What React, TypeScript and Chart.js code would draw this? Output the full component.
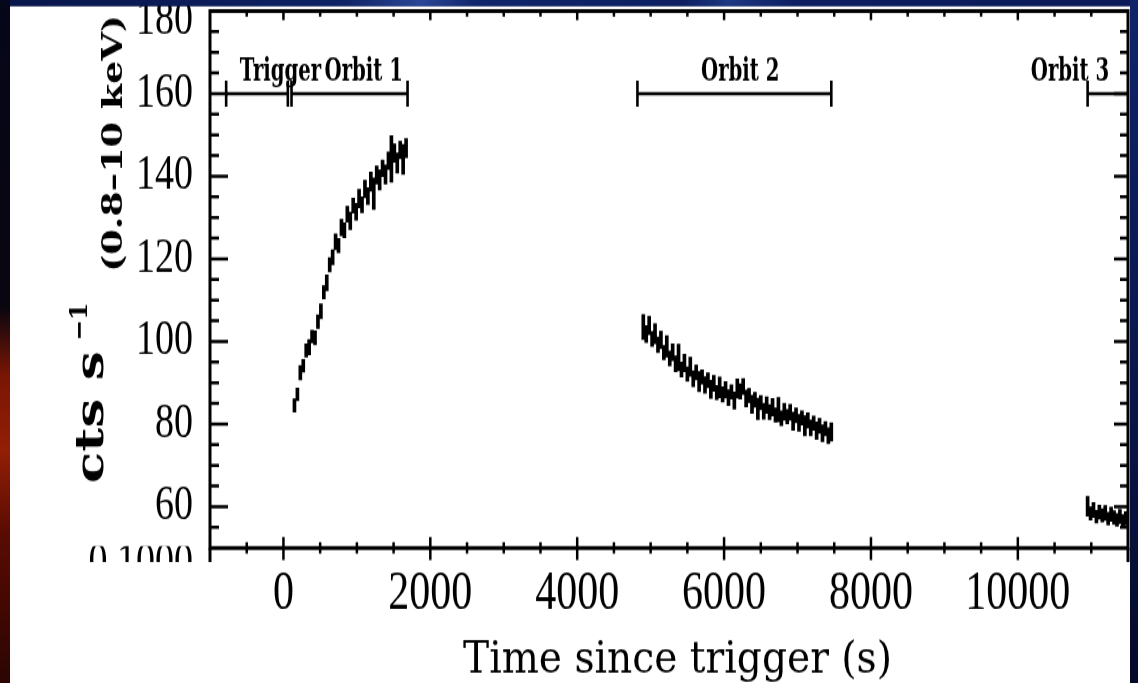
import React, { useEffect, useRef } from 'react';
import { Chart, registerables } from 'chart.js';

Chart.register(...registerables);

// ---------------- data ----------------
const orbit1Times = [150, 190, 230, 270, 310, 350, 390, 430, 470, 510, 550, 590, 630, 670, 710, 750, 790, 830, 870, 910, 950, 990, 1030, 1070, 1110, 1150, 1190, 1230, 1270, 1310, 1350, 1390, 1430, 1470, 1510, 1550, 1590, 1630, 1670];
const orbit1Rates = [84.5, 87.2, 92.4, 94.1, 97.8, 98.6, 101.2, 100.9, 104.8, 107.3, 111.9, 114.2, 118.6, 120.4, 124.1, 123.2, 127.6, 126.9, 130.8, 129.2, 132.9, 131.4, 134.6, 133.1, 136.9, 135.2, 138.7, 135.8, 140.3, 139.1, 141.9, 140.4, 143.8, 144.2, 145.6, 143.2, 146.4, 144.1, 146.8];
const orbit1Errors = [1.6, 1.5, 1.7, 1.5, 1.6, 1.8, 1.5, 1.7, 1.6, 1.8, 1.6, 1.9, 1.7, 1.8, 1.9, 1.7, 2.0, 1.8, 1.9, 2.1, 1.8, 2.0, 2.2, 1.9, 2.1, 2.0, 2.3, 3.8, 2.2, 2.4, 2.0, 2.3, 2.1, 5.6, 2.2, 2.4, 2.1, 3.6, 2.3];

const orbit2Times = [4900, 4940, 4980, 5020, 5060, 5100, 5140, 5180, 5220, 5260, 5300, 5340, 5380, 5420, 5460, 5500, 5540, 5580, 5620, 5660, 5700, 5740, 5780, 5820, 5860, 5900, 5940, 5980, 6020, 6060, 6100, 6140, 6180, 6220, 6260, 6300, 6340, 6380, 6420, 6460, 6500, 6540, 6580, 6620, 6660, 6700, 6740, 6780, 6820, 6860, 6900, 6940, 6980, 7020, 7060, 7100, 7140, 7180, 7220, 7260, 7300, 7340, 7380, 7420, 7460];
const orbit2Rates = [103.5, 101.8, 103.9, 100.6, 101.9, 99.2, 100.4, 97.3, 98.8, 95.9, 97.4, 94.6, 96.1, 93.2, 94.8, 92.1, 93.9, 91.0, 92.5, 90.3, 91.4, 89.5, 90.6, 88.4, 89.9, 87.6, 88.9, 87.2, 88.3, 86.4, 87.8, 85.7, 88.6, 87.9, 89.1, 86.2, 86.9, 84.8, 85.9, 83.7, 85.2, 83.1, 84.6, 82.9, 84.1, 82.2, 83.5, 81.4, 83.0, 81.8, 82.9, 80.7, 82.1, 80.3, 81.5, 79.6, 80.9, 79.1, 80.2, 78.4, 79.6, 77.8, 78.9, 77.2, 78.1];
const orbit2Errors = [3.0, 2.0, 2.2, 1.8, 2.4, 1.9, 2.1, 1.7, 2.6, 1.8, 2.0, 1.9, 3.2, 1.8, 2.1, 1.7, 2.3, 1.9, 1.8, 2.4, 1.7, 2.0, 1.8, 2.2, 1.9, 1.7, 2.5, 1.8, 2.0, 1.9, 1.7, 2.1, 2.3, 1.8, 1.9, 2.0, 1.7, 2.2, 1.8, 2.6, 1.7, 1.9, 2.0, 1.8, 2.1, 1.7, 2.9, 1.8, 2.0, 1.7, 1.9, 2.2, 1.8, 2.0, 1.7, 2.4, 1.8, 1.9, 1.7, 2.1, 1.8, 2.0, 1.7, 1.9, 2.2];

const orbit3Times = [10950, 10990, 11030, 11070, 11110, 11150, 11190, 11230, 11270, 11310, 11350, 11390, 11430, 11470];
const orbit3Rates = [60.1, 58.4, 59.2, 57.6, 58.7, 57.9, 58.5, 57.1, 58.2, 57.4, 56.8, 57.6, 56.5, 57.2];
const orbit3Errors = [2.4, 1.6, 1.8, 1.5, 1.7, 1.6, 1.8, 1.5, 1.7, 1.6, 1.5, 1.7, 1.6, 1.6];

// observation intervals drawn across the top
const intervalNames = ['Trigger', 'Orbit 1', 'Orbit 2', 'Orbit 3'];
const intervalStarts = [-780, 110, 4820, 10950];
const intervalEnds = [60, 1690, 7460, 11800];
const intervalLabelAt = [-41, 1094, 6220, 10710];
const intervalLevel = 160;

const xRange = [-1000, 11500];
const yRange = [50, 180];
const xTickStep = 500;
const xLabelStep = 2000;
const yTickStep = 5;
const yLabelStep = 20;

const xTitle = 'Time since trigger (s)';
const yTitleMain = 'cts s';
const yTitleSup = '\u22121';
const yTitleBand = '(0.8\u201310 keV)';
const lowerPanelTickLabel = '0.1000';

// ---------------- layout ----------------
const W = 1138;
const SCREEN_H = 683;
const H = 525;
const SY = SCREEN_H / H;
const sy = (v: number) => v / SY;
const PLOT_LEFT = 210;
const PLOT_RIGHT = 1128;
const PLOT_TOP = sy(11);
const PLOT_BOTTOM = sy(548);

const SERIF = '"Liberation Serif", "Times New Roman", serif';
const DSERIF = '"DejaVu Serif", serif';

const toBars = (times: number[], rates: number[], errs: number[]) =>
  times.map((t, i) => ({ x: t, y: [rates[i] - errs[i], rates[i] + errs[i]] }));

const framePlugin = {
  id: 'slideFrame',
  beforeDraw(chart: any) {
    const { ctx, width, height } = chart;
    ctx.save();
    ctx.fillStyle = '#0c1a55';
    ctx.fillRect(0, 0, width, height);
    ctx.fillStyle = '#ffffff';
    ctx.fillRect(10, sy(6), 1120, height - sy(6));
    ctx.restore();
  },
  afterDraw(chart: any) {
    const { ctx, chartArea: a, scales } = chart;
    const xs = scales.x;
    const ys = scales.y;
    ctx.save();
    ctx.strokeStyle = '#000';
    ctx.fillStyle = '#000';
    ctx.lineCap = 'butt';

    // top tick label sits a little lower than its tick (crowded against the frame)
    ctx.font = `38px ${SERIF}`;
    ctx.textAlign = 'right';
    ctx.textBaseline = 'middle';
    ctx.fillText(String(yRange[1]), a.left - 17, ys.getPixelForValue(yRange[1]) + sy(10));

    // remnant of the lower panel (cut off by the slide)
    const cut = sy(562);
    ctx.lineWidth = 3;
    ctx.beginPath();
    ctx.moveTo(a.left, a.bottom);
    ctx.lineTo(a.left, cut);
    ctx.moveTo(a.right, a.bottom);
    ctx.lineTo(a.right, cut);
    ctx.stroke();
    ctx.save();
    ctx.beginPath();
    ctx.rect(0, a.bottom - 1.5, a.left - 3, cut - a.bottom + 1.5);
    ctx.clip();
    ctx.font = `38px ${SERIF}`;
    ctx.textAlign = 'right';
    ctx.textBaseline = 'middle';
    ctx.fillText(lowerPanelTickLabel, a.left - 17, sy(563.5));
    ctx.restore();

    // frame
    ctx.lineWidth = 3;
    ctx.strokeRect(a.left, a.top, a.right - a.left, a.bottom - a.top);

    // inward tick marks on all sides
    ctx.lineWidth = 2.5;
    ctx.beginPath();
    xs.ticks.forEach((t: any) => {
      const px = xs.getPixelForValue(t.value);
      if (px <= a.left + 1 || px >= a.right - 1) return;
      const major = t.value % xLabelStep === 0;
      ctx.moveTo(px, a.bottom);
      ctx.lineTo(px, a.bottom - (major ? 8.5 : 4.6));
      ctx.moveTo(px, a.bottom);
      ctx.lineTo(px, a.bottom + (major ? 9.2 : 4.2));
      ctx.moveTo(px, a.top);
      ctx.lineTo(px, a.top + (major ? 7 : 4.4));
    });
    ys.ticks.forEach((t: any) => {
      const py = ys.getPixelForValue(t.value);
      if (py <= a.top + 1 || py >= a.bottom - 1) return;
      const major = t.value % yLabelStep === 0;
      ctx.moveTo(a.left, py);
      ctx.lineTo(a.left + (major ? 18 : 9), py);
      ctx.moveTo(a.right, py);
      ctx.lineTo(a.right - (major ? 14 : 8), py);
    });
    ctx.stroke();

    // observation intervals
    ctx.save();
    ctx.beginPath();
    ctx.rect(a.left, 0, a.right - a.left, a.bottom);
    ctx.clip();
    const yy = ys.getPixelForValue(intervalLevel);
    intervalNames.forEach((name, i) => {
      const x0 = xs.getPixelForValue(intervalStarts[i]);
      const x1 = xs.getPixelForValue(intervalEnds[i]);
      ctx.lineWidth = 2.6;
      ctx.beginPath();
      ctx.moveTo(x0, yy);
      ctx.lineTo(x1, yy);
      ctx.stroke();
      ctx.beginPath();
      ctx.moveTo(x0, yy - 10);
      ctx.lineTo(x0, yy + 10);
      ctx.moveTo(x1, yy - 10);
      ctx.lineTo(x1, yy + 10);
      ctx.stroke();
      ctx.save();
      ctx.translate(xs.getPixelForValue(intervalLabelAt[i]), yy - 10);
      ctx.scale(0.82, 1);
      ctx.font = `bold 24px ${DSERIF}`;
      ctx.textAlign = 'center';
      ctx.textBaseline = 'alphabetic';
      ctx.fillText(name, 0, 0);
      ctx.restore();
    });
    ctx.restore();

    // y-axis title (rotated, mixed sizes)
    ctx.textBaseline = 'alphabetic';
    ctx.save();
    ctx.translate(103, sy(351));
    ctx.rotate(-Math.PI / 2);
    ctx.font = `bold 40px ${DSERIF}`;
    ctx.textAlign = 'right';
    ctx.fillText(yTitleMain, 0, 0);
    ctx.restore();

    ctx.save();
    ctx.translate(87, sy(341));
    ctx.rotate(-Math.PI / 2);
    ctx.scale(0.8, 1);
    ctx.font = `bold 24px ${DSERIF}`;
    ctx.textAlign = 'left';
    ctx.fillText(yTitleSup, 0, 0);
    ctx.restore();

    ctx.save();
    ctx.translate(122, sy(272));
    ctx.rotate(-Math.PI / 2);
    ctx.font = `bold 27px ${DSERIF}`;
    const bw = ctx.measureText(yTitleBand).width;
    ctx.scale(sy(257) / bw, 1);
    ctx.textAlign = 'left';
    ctx.fillText(yTitleBand, 0, 0);
    ctx.restore();

    // x-axis title
    ctx.save();
    ctx.font = `34px ${DSERIF}`;
    const tw = ctx.measureText(xTitle).width;
    ctx.translate(677.5, sy(673));
    ctx.scale(429 / tw, 1);
    ctx.textAlign = 'center';
    ctx.fillText(xTitle, 0, 0);
    ctx.restore();

    // slide edges
    const tg = ctx.createLinearGradient(0, 0, W, 0);
    tg.addColorStop(0, '#08154a');
    tg.addColorStop(0.3, '#0e2264');
    tg.addColorStop(0.37, '#2a4796');
    tg.addColorStop(0.42, '#10256a');
    tg.addColorStop(0.6, '#0d1f60');
    tg.addColorStop(0.64, '#1d3782');
    tg.addColorStop(0.7, '#0d1f60');
    tg.addColorStop(1, '#0b1a58');
    ctx.fillStyle = tg;
    ctx.fillRect(0, 0, W, sy(6));
    const lg = ctx.createLinearGradient(0, 0, 0, H);
    lg.addColorStop(0, '#05071a');
    lg.addColorStop(0.45, '#0a0610');
    lg.addColorStop(0.55, '#7a1604');
    lg.addColorStop(0.66, '#921f06');
    lg.addColorStop(0.78, '#5a0c03');
    lg.addColorStop(1, '#2b0502');
    ctx.fillStyle = lg;
    ctx.fillRect(0, 0, 10, H);
    const rg = ctx.createLinearGradient(0, 0, 0, H);
    rg.addColorStop(0, '#10246a');
    rg.addColorStop(0.5, '#0a1850');
    rg.addColorStop(1, '#050a2a');
    ctx.fillStyle = rg;
    ctx.fillRect(1130, 0, W - 1130, H);
    ctx.restore();
  },
};

export default function App() {
  const ref = useRef<HTMLCanvasElement | null>(null);
  useEffect(() => {
    document.body.style.margin = '0';
    document.body.style.overflow = 'hidden';
    const canvas = ref.current;
    if (!canvas) return;
    const mkSet = (times: number[], rates: number[], errs: number[]) => ({
      data: toBars(times, rates, errs),
      backgroundColor: '#000',
      borderWidth: 0,
      barThickness: 3,
      grouped: false,
    });
    const chart = new Chart(canvas, {
      type: 'bar',
      data: {
        datasets: [
          mkSet(orbit1Times, orbit1Rates, orbit1Errors),
          mkSet(orbit2Times, orbit2Rates, orbit2Errors),
          mkSet(orbit3Times, orbit3Rates, orbit3Errors),
        ] as any,
      },
      options: {
        animation: false,
        responsive: false,
        events: [],
        layout: { padding: { left: 0, right: W - PLOT_RIGHT, top: PLOT_TOP, bottom: 0 } },
        plugins: { legend: { display: false }, tooltip: { enabled: false }, title: { display: false } },
        scales: {
          x: {
            type: 'linear',
            min: xRange[0],
            max: xRange[1],
            offset: false,
            grid: { display: false, drawTicks: true, tickLength: 11 },
            border: { display: false },
            ticks: {
              stepSize: xTickStep,
              autoSkip: false,
              maxRotation: 0,
              minRotation: 0,
              padding: 0,
              color: '#000',
              font: { family: SERIF, size: 42 },
              callback: (v: any) => (Number(v) % xLabelStep === 0 ? String(v) : ''),
            },
            afterFit: (s: any) => {
              s.height = H - PLOT_BOTTOM;
            },
          },
          y: {
            type: 'linear',
            min: yRange[0],
            max: yRange[1],
            grid: { display: false, drawTicks: true, tickLength: 17 },
            border: { display: false },
            ticks: {
              stepSize: yTickStep,
              autoSkip: false,
              padding: 0,
              color: '#000',
              font: { family: SERIF, size: 38, lineHeight: 0.4 },
              callback: (v: any) =>
                Number(v) % yLabelStep === 0 && Number(v) !== yRange[1] ? String(v) : '',
            },
            afterFit: (s: any) => {
              s.width = PLOT_LEFT;
            },
          },
        },
      } as any,
      plugins: [framePlugin],
    });
    return () => chart.destroy();
  }, []);
  return (
    <canvas
      ref={ref}
      width={W}
      height={H}
      style={{ display: 'block', width: `${W}px`, height: `${SCREEN_H}px` }}
    />
  );
}
